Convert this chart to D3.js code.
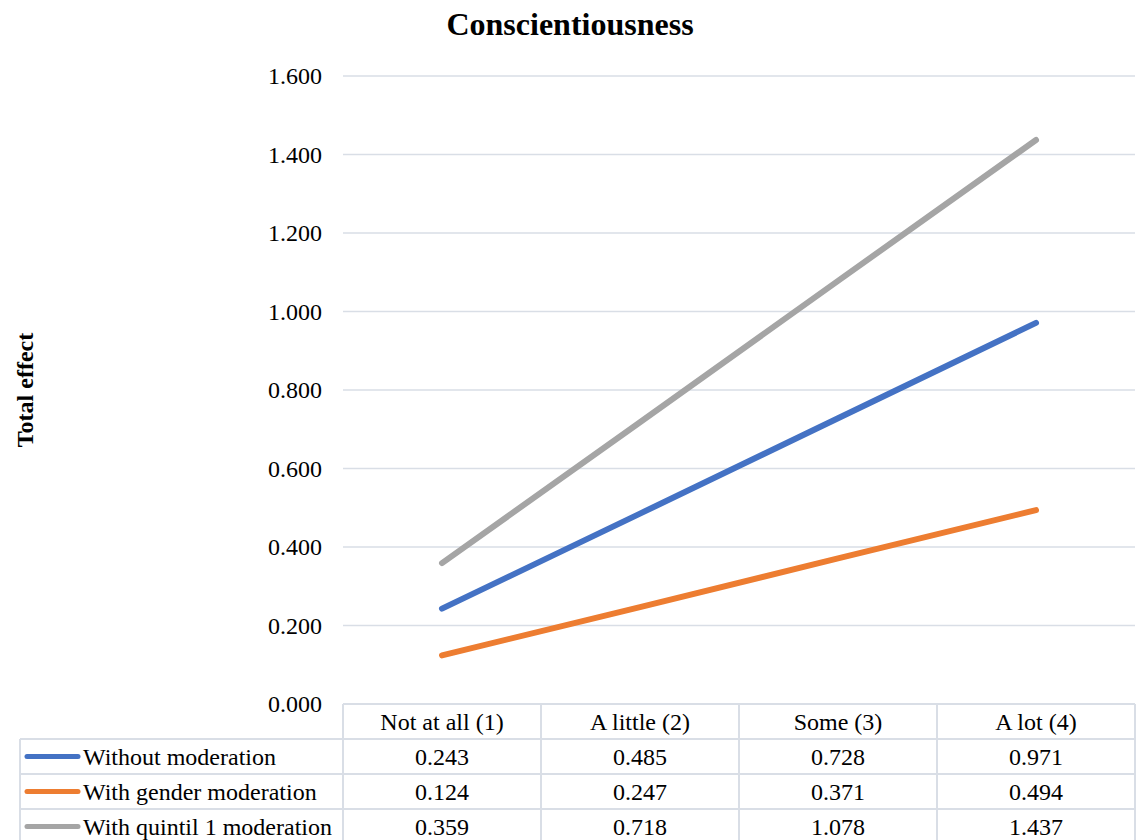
<!DOCTYPE html>
<html>
<head>
<meta charset="utf-8">
<script src="https://cdn.jsdelivr.net/npm/d3@7"></script>
<style>
  html, body { margin: 0; padding: 0; background: #fff; }
  svg { display: block; }
  svg, svg text { font-family: "Liberation Serif", "Times New Roman", serif; }
</style>
</head>
<body>
<svg id="fig" width="1139" height="840"></svg>
<script>
const categories = ["Not at all (1)", "A little (2)", "Some (3)", "A lot (4)"];
const seriesNames = ["Without moderation", "With gender moderation", "With quintil 1 moderation"];
const withoutModeration = [0.243, 0.485, 0.728, 0.971];
const genderModeration = [0.124, 0.247, 0.371, 0.494];
const quintil1Moderation = [0.359, 0.718, 1.078, 1.437];
const seriesColors = ["#4472C4", "#ED7D31", "#A5A5A5"];
const yTicks = [0, 0.2, 0.4, 0.6, 0.8, 1.0, 1.2, 1.4, 1.6];

const series = [
  { name: seriesNames[0], values: withoutModeration, color: seriesColors[0] },
  { name: seriesNames[1], values: genderModeration, color: seriesColors[1] },
  { name: seriesNames[2], values: quintil1Moderation, color: seriesColors[2] }
];

const FONT = "Liberation Serif, Times New Roman, serif";
const svg = d3.select("#fig");
const gridColor = "#D9DEE6";

const plotLeft = 343, plotRight = 1135, plotTop = 76, plotBottom = 704;
const tableLeft = 20;
const rowH = 35;

const x = d3.scaleBand().domain(categories).range([plotLeft, plotRight]);
const y = d3.scaleLinear().domain([0, 1.6]).range([plotBottom, plotTop]);

function label(sel, size, bold) {
  return sel
    .attr("font-family", FONT)
    .attr("font-size", size)
    .attr("font-weight", bold ? "bold" : "normal")
    .attr("fill", "#000");
}

// Title
label(svg.append("text")
  .attr("x", 570).attr("y", 35)
  .attr("text-anchor", "middle"), 32, true)
  .text("Conscientiousness");

// Y axis title
label(svg.append("text")
  .attr("transform", "translate(33,390) rotate(-90)")
  .attr("text-anchor", "middle"), 24, true)
  .text("Total effect");

// Gridlines (0 is drawn by the table's top border)
svg.append("g").selectAll("line")
  .data(yTicks.filter(d => d > 0))
  .join("line")
  .attr("x1", plotLeft).attr("x2", plotRight)
  .attr("y1", d => y(d)).attr("y2", d => y(d))
  .attr("stroke", gridColor).attr("stroke-width", 1.5);

// Y axis tick labels
const yAxis = d3.axisLeft(y).tickValues(yTicks).tickFormat(d3.format(".3f")).tickSize(0).tickPadding(21);
const yg = svg.append("g").attr("transform", `translate(${plotLeft},0)`).call(yAxis);
yg.attr("font-family", FONT).attr("font-size", 24);
yg.select(".domain").remove();
label(yg.selectAll("text"), 24, false);

// Lines
const line = d3.line()
  .x((d, i) => x(categories[i]) + x.bandwidth() / 2)
  .y(d => y(d));

svg.append("g").selectAll("path")
  .data(series)
  .join("path")
  .attr("d", d => line(d.values))
  .attr("fill", "none")
  .attr("stroke", d => d.color)
  .attr("stroke-width", 6)
  .attr("stroke-linecap", "round");

// Data table
const table = svg.append("g");
const tableTop = plotBottom;
const rowsTop = tableTop + rowH;
const tableBottom = rowsTop + rowH * series.length;

table.append("line")
  .attr("x1", plotLeft).attr("x2", plotRight)
  .attr("y1", tableTop).attr("y2", tableTop)
  .attr("stroke", gridColor).attr("stroke-width", 2);
for (let r = 0; r <= series.length; r++) {
  const yy = rowsTop + r * rowH;
  table.append("line")
    .attr("x1", tableLeft).attr("x2", plotRight)
    .attr("y1", yy).attr("y2", yy)
    .attr("stroke", gridColor).attr("stroke-width", 2);
}
table.append("line")
  .attr("x1", tableLeft).attr("x2", tableLeft)
  .attr("y1", rowsTop).attr("y2", tableBottom)
  .attr("stroke", gridColor).attr("stroke-width", 2);
categories.forEach(c => {
  table.append("line")
    .attr("x1", x(c)).attr("x2", x(c))
    .attr("y1", tableTop).attr("y2", tableBottom)
    .attr("stroke", gridColor).attr("stroke-width", 2);
});
table.append("line")
  .attr("x1", plotRight).attr("x2", plotRight)
  .attr("y1", tableTop).attr("y2", tableBottom)
  .attr("stroke", gridColor).attr("stroke-width", 2);

// header row
label(table.selectAll("text.hdr")
  .data(categories)
  .join("text")
  .attr("class", "hdr")
  .attr("x", d => x(d) + x.bandwidth() / 2)
  .attr("y", tableTop + rowH / 2 + 8)
  .attr("text-anchor", "middle"), 24, false)
  .text(d => d);

// series rows
series.forEach((s, r) => {
  const cy = rowsTop + r * rowH + rowH / 2;
  table.append("line")
    .attr("x1", 27).attr("x2", 78)
    .attr("y1", cy).attr("y2", cy)
    .attr("stroke", s.color).attr("stroke-width", 5)
    .attr("stroke-linecap", "round");
  label(table.append("text")
    .attr("x", 83).attr("y", cy + 8), 24, false)
    .text(s.name);
  label(table.selectAll(null)
    .data(s.values)
    .join("text")
    .attr("x", (d, i) => x(categories[i]) + x.bandwidth() / 2)
    .attr("y", cy + 8)
    .attr("text-anchor", "middle"), 24, false)
    .text(d => d3.format(".3f")(d));
});
</script>
</body>
</html>
